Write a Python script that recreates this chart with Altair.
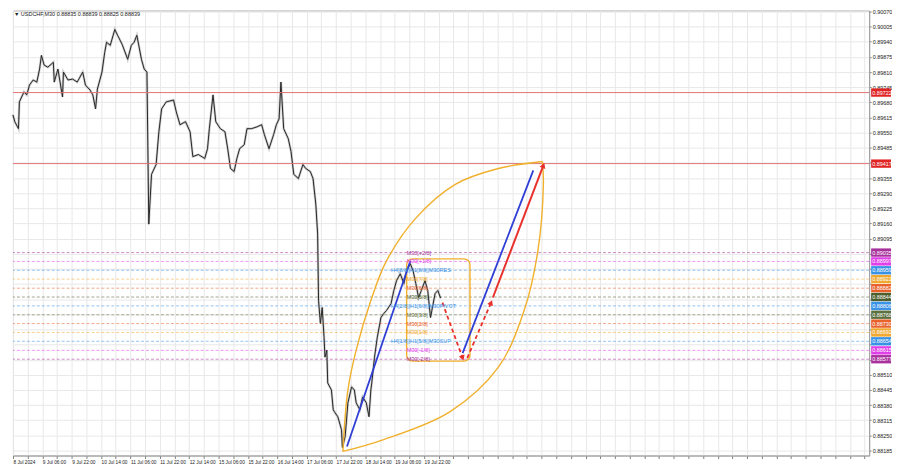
import json
import altair as alt
import pandas as pd

# ---------------- data ----------------
title_text = "\u25BC USDCHF,M30  0.88835 0.88839 0.88825 0.88839"

x_labels = ["8 Jul 2024", "9 Jul 06:00", "9 Jul 22:00", "10 Jul 14:00", "11 Jul 06:00",
            "11 Jul 22:00", "12 Jul 14:00", "15 Jul 06:00", "15 Jul 22:00", "16 Jul 14:00",
            "17 Jul 06:00", "17 Jul 22:00", "18 Jul 14:00", "19 Jul 06:00", "19 Jul 22:00"]

y_ticks = [0.88185, 0.88250, 0.88315, 0.88380, 0.88445, 0.88510, 0.88575, 0.88640,
           0.88705, 0.88770, 0.88835, 0.88900, 0.88965, 0.89030, 0.89095, 0.89160,
           0.89225, 0.89290, 0.89355, 0.89420, 0.89485, 0.89550, 0.89615, 0.89680,
           0.89745, 0.89810, 0.89875, 0.89940, 0.90005, 0.90070]
# tick labels that sit under the coloured price tags
y_hidden = ["0.88575", "0.88640", "0.88705", "0.88770", "0.88835", "0.88900",
            "0.88965", "0.89030", "0.89420"]

# M30 bar index (0 = first bar on the chart)
bars = [0, 2, 6, 7, 12, 15, 18, 22, 26, 29, 31, 34, 38, 44, 45, 49, 54, 55, 60, 65, 70, 76, 79,
        84, 87, 90, 92, 97, 100, 102, 106, 111, 114, 119, 125, 129, 132, 135, 140, 143, 146,
        148, 151, 156, 159, 162, 167, 175, 178, 182, 188, 193, 196, 202, 209, 212, 214, 218,
        221, 226, 231, 234, 237, 241, 244, 247, 252, 255, 260, 266, 271, 274, 279, 284, 287,
        290, 292, 295, 300, 303, 306, 311, 316, 319, 324, 327, 330, 332, 333, 335, 337, 339,
        340, 342, 343, 347, 349, 351, 354, 358, 359, 362, 365, 369, 372, 374, 378, 381, 385,
        388, 390, 391, 394, 397, 401, 404, 407, 412, 415, 418, 422, 426, 429, 433, 436, 439,
        442, 445, 449, 452, 455, 460, 463, 466]
closes = [0.89626, 0.89597, 0.89567, 0.89682, 0.89725, 0.89712, 0.89754, 0.89776, 0.89767,
          0.89823, 0.89882, 0.89840, 0.89831, 0.89852, 0.89767, 0.89823, 0.89703, 0.89810,
          0.89776, 0.89780, 0.89767, 0.89810, 0.89754, 0.89733, 0.89712, 0.89652, 0.89737,
          0.89810, 0.89895, 0.89938, 0.89925, 0.89993, 0.89968, 0.89929, 0.89865, 0.89925,
          0.89938, 0.89968, 0.89865, 0.89823, 0.89810, 0.89157, 0.89371, 0.89413, 0.89554,
          0.89652, 0.89682, 0.89690, 0.89639, 0.89584, 0.89597, 0.89554, 0.89447, 0.89456,
          0.89439, 0.89481, 0.89567, 0.89712, 0.89597, 0.89567, 0.89554, 0.89481, 0.89396,
          0.89383, 0.89439, 0.89481, 0.89498, 0.89567, 0.89567, 0.89575, 0.89584, 0.89541,
          0.89481, 0.89541, 0.89584, 0.89609, 0.89767, 0.89567, 0.89524, 0.89469, 0.89371,
          0.89353, 0.89413, 0.89396, 0.89383, 0.89353, 0.89243, 0.89115, 0.88829, 0.88731,
          0.88799, 0.88671, 0.88586, 0.88616, 0.88475, 0.88445, 0.88360, 0.88347, 0.88330,
          0.88274, 0.88198, 0.88245, 0.88390, 0.88458, 0.88445, 0.88390, 0.88360, 0.88415,
          0.88390, 0.88330, 0.88445, 0.88475, 0.88586, 0.88671, 0.88756, 0.88773, 0.88786,
          0.88816, 0.88872, 0.88914, 0.88944, 0.88902, 0.88957, 0.88987, 0.88957, 0.88902,
          0.88842, 0.88872, 0.88914, 0.88872, 0.88756, 0.88859, 0.88872, 0.88839]

# Murrey-math levels
level_prices = [0.89035, 0.88997, 0.88959, 0.88921, 0.88882, 0.88844, 0.88806,
                0.88768, 0.88730, 0.88692, 0.88654, 0.88615, 0.88577]
level_names = ["M30[+2/8]", "M30[+1/8]", "H4[8/8]|H1[8/8]|M30RES", "M30[7/8]", "M30[6/8]",
               "M30[5/8]", "H4[2/8]|H1[6/8]|M30PIVOT", "M30[3/8]", "M30[2/8]", "M30[1/8]",
               "H4[1/8]|H1[5/8]|M30SUP", "M30[-1/8]", "M30[-2/8]"]
level_colors = ["#a8329c", "#e040e8", "#3a92e6", "#f0a830", "#e8622c", "#4d5f2c", "#3a92e6",
                "#5d7040", "#e8622c", "#f0a830", "#3a92e6", "#e040e8", "#a8329c"]
level_text_bar = [429, 429, 412, 429, 429, 429, 412, 429, 429, 429, 412, 429, 429]

red_levels = [0.89722, 0.89417]

# projections (bar, price)
blue1_bar, blue1_price = [364, 433], [0.88202, 0.88999]
blue2_bar, blue2_price = [490, 567], [0.88603, 0.89388]
red_solid_bar, red_solid_price = [523, 578], [0.88842, 0.89409]
red_dn_bar, red_dn_price = [468, 490], [0.88820, 0.88582]
red_up_bar, red_up_price = [495, 521], [0.88582, 0.88820]

# orange lens
arc_up_bar = [359.5, 365, 374, 390, 407, 439, 482, 529, 577]
arc_up_price = [0.88181, 0.88445, 0.88616, 0.88829, 0.88999, 0.89183, 0.89328, 0.89396, 0.89426]
arc_lo_bar = [359.5, 404, 476, 529, 557, 572, 578, 577]
arc_lo_price = [0.88181, 0.88232, 0.88351, 0.88543, 0.88786, 0.89042, 0.89328, 0.89426]

# orange rounded box
box_bar = [429, 498]
box_price = [0.88569, 0.89008]

# ---------------- chart ----------------
W, H = 862, 448
FONT = "Liberation Sans"
xs = alt.Scale(domain=[0, 933], nice=False, zero=False)
ys = alt.Scale(domain=[0.881635, 0.900743], nice=False, zero=False)

lab_js = json.dumps(x_labels).replace('"', "'")
hid_js = json.dumps(y_hidden).replace('"', "'")
x_axis = alt.Axis(values=list(range(0, 929, 16)),
                  labelExpr=f"(datum.value % 32 == 0 && datum.value / 32 < {len(x_labels)}) ? {lab_js}[datum.value / 32] : ''",
                  grid=True, gridColor="#e8e8e8", domainColor="#a0a0a0", tickColor="#808080",
                  tickSize=3, labelFontSize=4.8, labelFont=FONT, labelColor="#222",
                  labelAlign="left", labelPadding=1, labelOverlap=False, labelFlush=False,
                  labelBound=False, title=None)
y_axis = alt.Axis(orient="right", values=y_ticks, format=".5f",
                  labelExpr=f"indexof({hid_js}, datum.label) >= 0 ? '' : datum.label",
                  grid=True, gridColor="#e8e8e8",
                  domainColor="#a0a0a0", tickColor="#808080", tickSize=2, labelFontSize=5.5,
                  labelFont=FONT, labelColor="#222", labelPadding=1, labelOverlap=False,
                  labelFlush=False, title=None)


def X(f):
    return alt.X(f, scale=xs, axis=x_axis)


def Y(f):
    return alt.Y(f, scale=ys, axis=y_axis)


price_df = pd.DataFrame({"bar": bars, "price": closes})
wick = alt.Chart(price_df).mark_line(color="#9a9a9a", strokeWidth=2.4, opacity=0.5).encode(
    x=X("bar:Q"), y=Y("price:Q"))
price = alt.Chart(price_df).mark_line(color="#262626", strokeWidth=1.0).encode(
    x=X("bar:Q"), y=Y("price:Q"))

lev_df = pd.DataFrame({"price": level_prices, "name": level_names, "color": level_colors,
                       "bar": level_text_bar})
lev_lines = alt.Chart(lev_df).mark_rule(strokeDash=[3, 2], strokeWidth=1, opacity=0.55).encode(
    y=Y("price:Q"), color=alt.Color("color:N", scale=None))
lev_text = alt.Chart(lev_df).mark_text(align="left", baseline="middle", fontSize=5.5, font=FONT).encode(
    x=X("bar:Q"), y=Y("price:Q"), text="name:N", color=alt.Color("color:N", scale=None))

red_df = pd.DataFrame({"price": red_levels})
red_lines = alt.Chart(red_df).mark_rule(color="#e07474", strokeWidth=1).encode(y=Y("price:Q"))

# right-axis coloured labels
tag_df = pd.DataFrame({"price": level_prices + red_levels,
                       "color": level_colors + ["#e02424", "#e02424"]})
tag_shape = "M-1,-0.42H1V0.42H-1Z"
tags = alt.Chart(tag_df).mark_point(shape=tag_shape, filled=True, size=400, opacity=1,
                                    strokeWidth=0).encode(
    x=alt.value(W + 12), y=Y("price:Q"), color=alt.Color("color:N", scale=None))
tag_text = alt.Chart(tag_df).mark_text(align="left", baseline="middle", fontSize=5.5, font=FONT,
                                       color="white").encode(
    x=alt.value(W + 3), y=Y("price:Q"), text=alt.Text("price:Q", format=".5f"))

# lens
arc_df = pd.DataFrame({
    "bar": arc_up_bar + arc_lo_bar,
    "price": arc_up_price + arc_lo_price,
    "arc": ["up"] * len(arc_up_bar) + ["lo"] * len(arc_lo_bar),
    "i": list(range(len(arc_up_bar))) + list(range(len(arc_lo_bar))),
})
lens = alt.Chart(arc_df).mark_line(color="#f0b02c", strokeWidth=1.4, interpolate="catmull-rom").encode(
    x=X("bar:Q"), y=Y("price:Q"), detail="arc:N", order="i:Q")

box_df = pd.DataFrame({"bar": [box_bar[0]], "b2": [box_bar[1]], "price": [box_price[0]], "p2": [box_price[1]]})
box = alt.Chart(box_df).mark_rect(filled=False, stroke="#f0b02c", strokeWidth=1.4, cornerRadius=6).encode(
    x=X("bar:Q"), x2="b2:Q", y=Y("price:Q"), y2="p2:Q")


def seg_df(pairs):
    rows = []
    for sid, (bb, pp) in enumerate(pairs):
        for k, (b, p) in enumerate(zip(bb, pp)):
            rows.append({"seg": sid, "i": k, "bar": b, "price": p})
    return pd.DataFrame(rows)


blue = alt.Chart(seg_df([(blue1_bar, blue1_price), (blue2_bar, blue2_price)])).mark_line(
    color="#2f3fd6", strokeWidth=1.8).encode(x=X("bar:Q"), y=Y("price:Q"), detail="seg:N", order="i:Q")
red_solid = alt.Chart(seg_df([(red_solid_bar, red_solid_price)])).mark_line(
    color="#e8302c", strokeWidth=2).encode(x=X("bar:Q"), y=Y("price:Q"), detail="seg:N", order="i:Q")
red_dash = alt.Chart(seg_df([(red_dn_bar, red_dn_price), (red_up_bar, red_up_price)])).mark_line(
    color="#e8302c", strokeWidth=1.8, strokeDash=[4, 3]).encode(
    x=X("bar:Q"), y=Y("price:Q"), detail="seg:N", order="i:Q")

head_df = pd.DataFrame({"bar": [red_solid_bar[1], red_dn_bar[1], red_up_bar[1]],
                        "price": [red_solid_price[1], red_dn_price[1], red_up_price[1]],
                        "ang": [21, 160, 23]})
heads = alt.Chart(head_df).mark_point(shape="triangle-up", filled=True, size=38, color="#e8302c",
                                      opacity=1).encode(
    x=X("bar:Q"), y=Y("price:Q"), angle=alt.Angle("ang:Q", scale=None))

title = alt.Chart(pd.DataFrame({"t": [title_text]})).mark_text(
    align="left", baseline="top", fontSize=5.5, font=FONT, color="#222").encode(
    x=alt.value(1), y=alt.value(2), text="t:N")

chart = alt.layer(wick, lev_lines, price, red_lines, lens, box, blue, red_dash, red_solid, heads,
                  lev_text, tags, tag_text, title).properties(
    width=W, height=H, padding=0, background="white"
).configure_view(stroke="#a8a8a8")

chart.save("out.html", embed_options={"renderer": "svg", "actions": False})
